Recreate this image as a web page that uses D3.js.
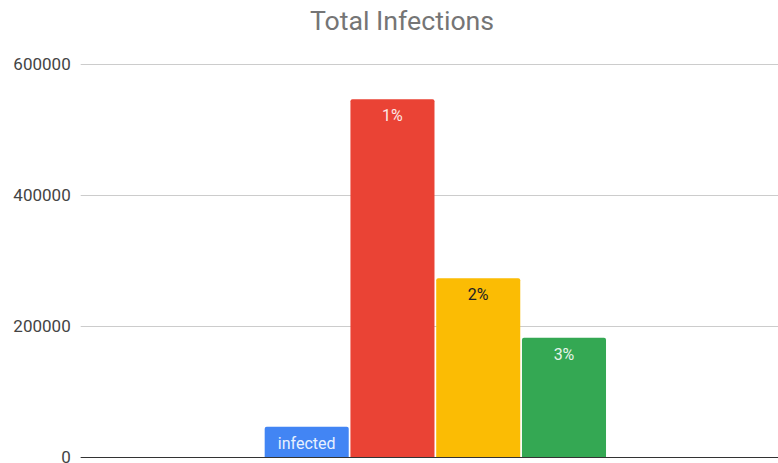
<!DOCTYPE html>
<html>
<head>
<meta charset="utf-8">
<script src="https://cdn.jsdelivr.net/npm/d3@7"></script>
<style>
  body { margin: 0; background: #fff; }
  svg { display: block; font-family: Roboto, Arial, sans-serif; }
</style>
</head>
<body>
<div id="chart"></div>
<script>
var categories = ["infected", "1%", "2%", "3%"];
var values = [46000, 546000, 273000, 182000];
var colors = ["#4285F4", "#EA4335", "#FBBC04", "#34A853"];
var labelColors = ["#e8f0fe", "#fce8e6", "#202124", "#e6f4ea"];
var yTicks = [0, 200000, 400000, 600000];

var width = 778;
var height = 463;
var plotLeft = 80.7, plotRight = 790, plotTop = 64, plotBottom = 457;

var svg = d3.select("#chart").append("svg")
  .attr("width", width)
  .attr("height", height);

/* Scales */
var y = d3.scaleLinear()
  .domain([0, 600000])
  .range([plotBottom, plotTop]);

var x0 = d3.scaleBand()
  .domain([""])
  .range([plotLeft, plotRight])
  .paddingOuter(0.539);

var x1 = d3.scaleBand()
  .domain(categories)
  .range([x0(""), x0("") + x0.bandwidth()])
  .paddingInner(0.02);

/* Title */
svg.append("text")
  .attr("x", 402)
  .attr("y", 30)
  .attr("text-anchor", "middle")
  .attr("fill", "#757575")
  .style("font-size", "26.7px")
  .text("Total Infections");

/* Grid + y labels */
var yAxis = d3.axisLeft(y)
  .tickValues(yTicks)
  .tickSize(-(plotRight - plotLeft))
  .tickPadding(10)
  .tickFormat(d3.format("d"));

var gy = svg.append("g")
  .attr("transform", `translate(${plotLeft},0)`)
  .call(yAxis);
gy.select(".domain").remove();
gy.selectAll(".tick line")
  .attr("stroke", "#cccccc")
  .attr("stroke-width", 1);
gy.selectAll(".tick text")
  .attr("fill", "#444444")
  .style("font-size", "17px")
  .style("font-family", "Roboto, Arial, sans-serif");

/* Bars */
var r = 2;
function barPath(d, i) {
  var x = x1(categories[i]), w = x1.bandwidth();
  var yt = y(d), yb = y(0);
  return `M${x},${yb}V${yt + r}Q${x},${yt} ${x + r},${yt}H${x + w - r}Q${x + w},${yt} ${x + w},${yt + r}V${yb}Z`;
}

svg.append("g")
  .selectAll("path")
  .data(values).enter()
  .append("path")
  .attr("d", barPath)
  .attr("fill", (d, i) => colors[i]);

svg.append("g")
  .selectAll("text")
  .data(values).enter()
  .append("text")
  .attr("x", (d, i) => x1(categories[i]) + x1.bandwidth() / 2)
  .attr("y", d => y(d) + 22)
  .attr("text-anchor", "middle")
  .attr("fill", (d, i) => labelColors[i])
  .style("font-size", "16px")
  .text((d, i) => categories[i]);

/* Baseline */
svg.append("line")
  .attr("x1", plotLeft)
  .attr("x2", plotRight)
  .attr("y1", y(0) + 0.5)
  .attr("y2", y(0) + 0.5)
  .attr("stroke", "#333333")
  .attr("stroke-width", 1);
</script>
</body>
</html>
